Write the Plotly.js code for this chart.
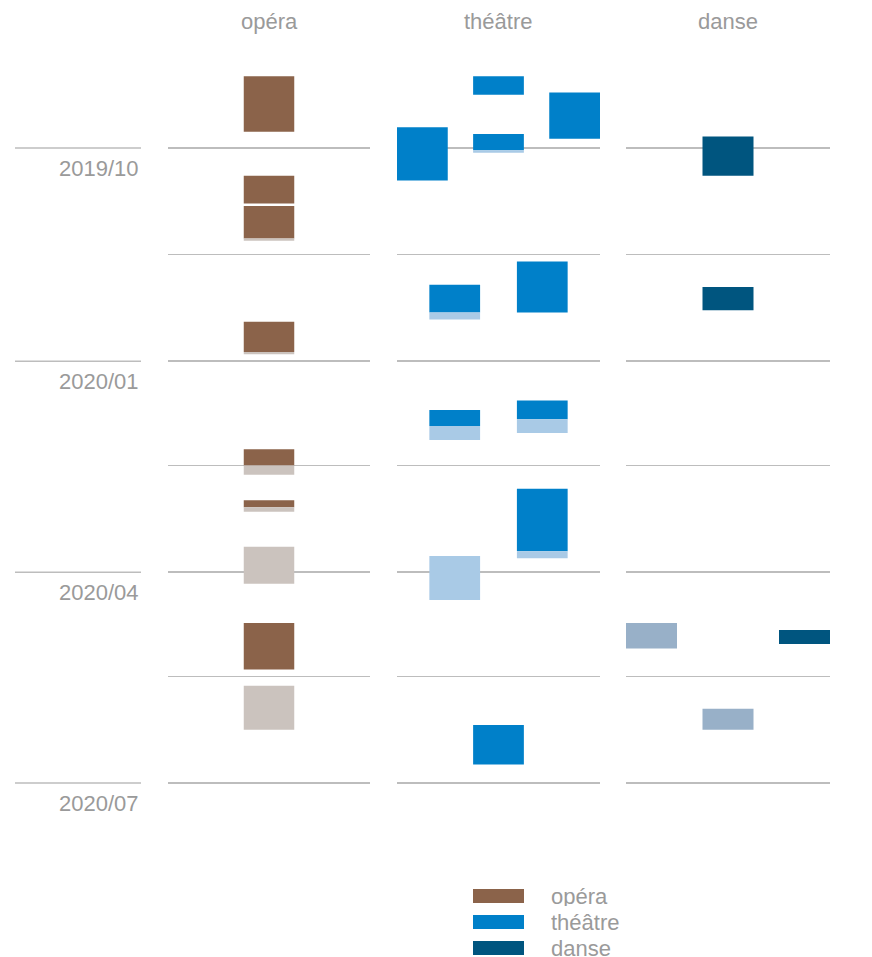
<!DOCTYPE html>
<html>
<head>
<meta charset="utf-8">
<script src="https://cdn.plot.ly/plotly-3.0.1.min.js"></script>
<style>html,body{margin:0;padding:0;background:#fff;}#chart{width:872px;height:957px;}</style>
</head>
<body>
<div id="chart"></div>
<script>
// ---------- data ----------
const disciplines = ['opéra', 'théâtre', 'danse'];
const darkColors = ['#8B634A', '#0080C9', '#00557F'];
const lightColors = ['#CBC3BE', '#A9CAE6', '#98B0C8'];

const quarterTicks = ['2019-10-01', '2020-01-01', '2020-04-01', '2020-07-01'];
const quarterLabels = ['2019/10', '2020/01', '2020/04', '2020/07'];
const gridDates = ['2019-10-01', '2019-11-16', '2020-01-01', '2020-02-15', '2020-04-01', '2020-05-16', '2020-07-01'];

// opéra productions (lane, start, end of dark part, end of light part)
const operaLane    = [1, 1, 1, 1, 1, 1, 1, 1, 1];
const operaStart   = ['2019-08-31', '2019-10-13', '2019-10-26', '2019-12-15', '2020-02-08', '2020-03-01', '2020-03-21', '2020-04-23', '2020-05-20'];
const operaDarkEnd = ['2019-09-24', '2019-10-25', '2019-11-09', '2019-12-28', '2020-02-15', '2020-03-04', '2020-03-21', '2020-05-13', '2020-05-20'];
const operaEnd     = ['2019-09-24', '2019-10-25', '2019-11-10', '2019-12-29', '2020-02-19', '2020-03-06', '2020-04-06', '2020-05-13', '2020-06-08'];

// théâtre productions
const theatreLane    = [0, 0.425, 0.425, 0.425, 1, 1, 1, 2, 1.575, 1.575, 1.575];
const theatreStart   = ['2019-09-22', '2019-11-29', '2020-01-22', '2020-03-25', '2019-08-31', '2019-09-25', '2020-06-06', '2019-09-07', '2019-11-19', '2020-01-18', '2020-02-25'];
const theatreDarkEnd = ['2019-10-15', '2019-12-11', '2020-01-29', '2020-03-25', '2019-09-08', '2019-10-02', '2020-06-23', '2019-09-27', '2019-12-11', '2020-01-26', '2020-03-23'];
const theatreEnd     = ['2019-10-15', '2019-12-14', '2020-02-04', '2020-04-13', '2019-09-08', '2019-10-03', '2020-06-23', '2019-09-27', '2019-12-11', '2020-02-01', '2020-03-26'];

// danse productions
const danseLane    = [1, 1, 1, 0, 2];
const danseStart   = ['2019-09-26', '2019-11-30', '2020-05-30', '2020-04-23', '2020-04-26'];
const danseDarkEnd = ['2019-10-13', '2019-12-10', '2020-05-30', '2020-04-23', '2020-05-02'];
const danseEnd     = ['2019-10-13', '2019-12-10', '2020-06-08', '2020-05-04', '2020-05-02'];

// ---------- build ----------
const W = 872, H = 957;
const textColor = '#9a9a9a';
const gridColor = '#bdbdbd';
const fontFamily = 'Liberation Sans, Arial, sans-serif';
const fontSize = 22;

const groups = [
  {lane: operaLane, start: operaStart, darkEnd: operaDarkEnd, end: operaEnd},
  {lane: theatreLane, start: theatreStart, darkEnd: theatreDarkEnd, end: theatreEnd},
  {lane: danseLane, start: danseStart, darkEnd: danseDarkEnd, end: danseEnd}
];
const colDomains = [[168 / W, 370 / W], [397 / W, 600 / W], [626 / W, 830 / W]];

function ms(d) { return Date.parse(d + 'T00:00:00Z'); }

const traces = [];
groups.forEach((g, i) => {
  const ax = i === 0 ? 'x' : 'x' + (i + 1);
  const dark = {x: [], base: [], y: []};
  const light = {x: [], base: [], y: []};
  g.lane.forEach((s, k) => {
    const dDark = ms(g.darkEnd[k]) - ms(g.start[k]);
    const dLight = ms(g.end[k]) - ms(g.darkEnd[k]);
    if (dDark > 0) { dark.x.push(s); dark.base.push(g.start[k]); dark.y.push(dDark); }
    if (dLight > 0) { light.x.push(s); light.base.push(g.darkEnd[k]); light.y.push(dLight); }
  });
  traces.push({type: 'bar', orientation: 'v', x: dark.x, y: dark.y, base: dark.base, width: 2 / 3,
    marker: {color: darkColors[i], line: {width: 0}}, xaxis: ax, yaxis: 'y', showlegend: false,
    name: disciplines[i], hoverinfo: 'skip'});
  traces.push({type: 'bar', orientation: 'v', x: light.x, y: light.y, base: light.base, width: 2 / 3,
    marker: {color: lightColors[i], line: {width: 0}}, xaxis: ax, yaxis: 'y', showlegend: false,
    name: disciplines[i], hoverinfo: 'skip'});
});

const hiddenX = (dom) => ({domain: dom, range: [-1 / 3, 7 / 3], showgrid: false, zeroline: false,
  showticklabels: false, ticks: '', showline: false, anchor: 'y', fixedrange: true});

const shapes = [];
const annotations = [];
quarterTicks.forEach((d, k) => {
  shapes.push({type: 'line', xref: 'paper', yref: 'y', x0: 15 / W, x1: 141 / W, y0: d, y1: d,
    line: {color: gridColor, width: 1.5}, layer: 'below'});
  annotations.push({xref: 'paper', yref: 'y', x: 141 / W, y: d, xanchor: 'right', yanchor: 'top',
    yshift: -6, text: quarterLabels[k], showarrow: false,
    font: {family: fontFamily, size: fontSize, color: textColor}});
});
disciplines.forEach((name, i) => {
  annotations.push({xref: 'paper', yref: 'paper', x: (colDomains[i][0] + colDomains[i][1]) / 2,
    y: 1 - 21 / H, xanchor: 'center', yanchor: 'middle', text: name, showarrow: false,
    font: {family: fontFamily, size: fontSize, color: textColor}});
  // legend
  const yc = 896 + 26 * i;
  shapes.push({type: 'rect', xref: 'paper', yref: 'paper', x0: 473 / W, x1: 524 / W,
    y0: 1 - (yc + 7) / H, y1: 1 - (yc - 7) / H, fillcolor: darkColors[i], line: {width: 0}});
  annotations.push({xref: 'paper', yref: 'paper', x: 549 / W, y: 1 - yc / H, xanchor: 'left',
    yanchor: 'middle', height: 20, text: name, showarrow: false,
    font: {family: fontFamily, size: fontSize, color: textColor}});
});

const layout = {
  width: W, height: H,
  margin: {l: 0, r: 0, t: 0, b: 0},
  paper_bgcolor: '#ffffff', plot_bgcolor: '#ffffff',
  barmode: 'overlay',
  showlegend: false,
  xaxis: hiddenX(colDomains[0]),
  xaxis2: hiddenX(colDomains[1]),
  xaxis3: hiddenX(colDomains[2]),
  yaxis: {type: 'date', range: ['2020-07-10', '2019-08-20'], domain: [0.15998, 0.94706],
    tickmode: 'array', tickvals: gridDates, showticklabels: false, ticks: '',
    showgrid: true, gridcolor: gridColor, gridwidth: 1.5, zeroline: false, showline: false,
    anchor: 'x', fixedrange: true},
  shapes: shapes,
  annotations: annotations,
  font: {family: fontFamily, color: textColor}
};

Plotly.newPlot('chart', traces, layout, {displayModeBar: false, staticPlot: true});
</script>
</body>
</html>
